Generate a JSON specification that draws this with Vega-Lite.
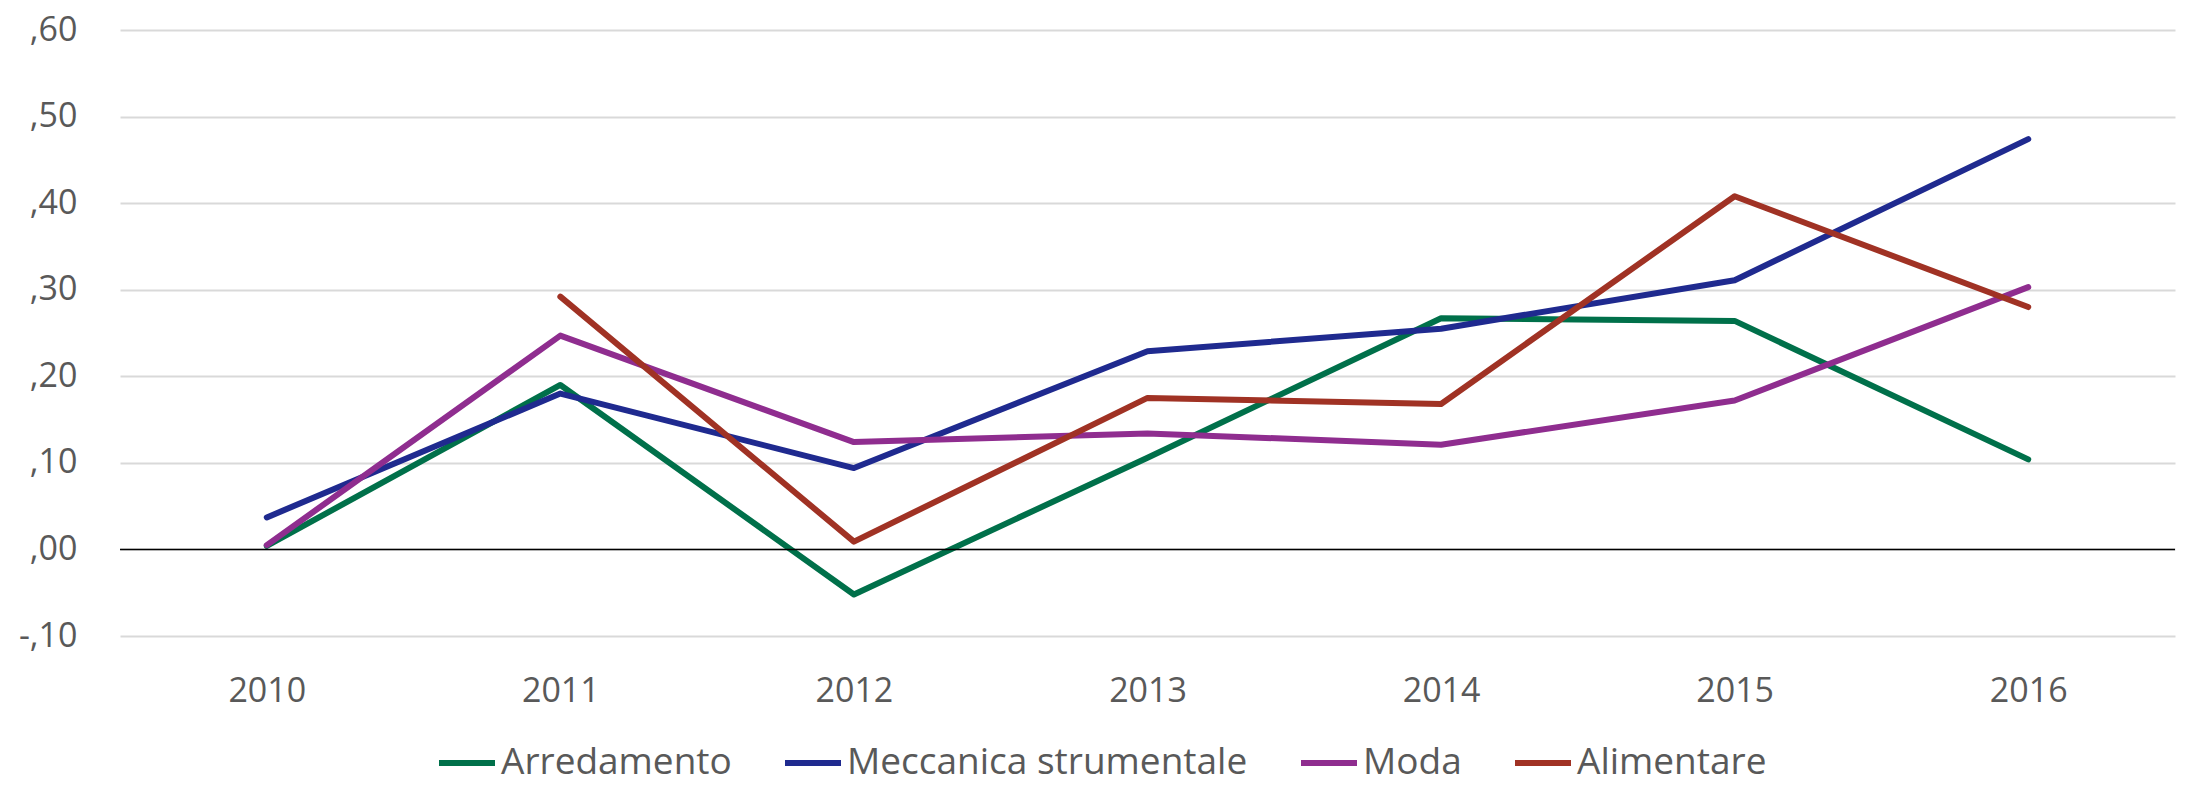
{
  "$schema": "https://vega.github.io/schema/vega-lite/v6.json",
  "autosize": {"type": "none"},
  "width": 2055,
  "height": 606,
  "padding": {"left": 120, "top": 30, "right": 11, "bottom": 149},
  "background": "white",
  "config": {
    "view": {"stroke": null},
    "font": "Open Sans",
    "axis": {"labelFont": "Open Sans", "labelColor": "#595959", "labelFontSize": 34},
    "legend": {"labelFont": "Open Sans", "labelColor": "#595959", "labelFontSize": 37}
  },
  "layer": [
    {
      "data": {"values": [
        {"year": "2010", "series": "Arredamento", "value": 0.004},
        {"year": "2011", "series": "Arredamento", "value": 0.190},
        {"year": "2012", "series": "Arredamento", "value": -0.052},
        {"year": "2013", "series": "Arredamento", "value": 0.106},
        {"year": "2014", "series": "Arredamento", "value": 0.267},
        {"year": "2015", "series": "Arredamento", "value": 0.264},
        {"year": "2016", "series": "Arredamento", "value": 0.104},
        {"year": "2010", "series": "Meccanica strumentale", "value": 0.037},
        {"year": "2011", "series": "Meccanica strumentale", "value": 0.180},
        {"year": "2012", "series": "Meccanica strumentale", "value": 0.094},
        {"year": "2013", "series": "Meccanica strumentale", "value": 0.229},
        {"year": "2014", "series": "Meccanica strumentale", "value": 0.255},
        {"year": "2015", "series": "Meccanica strumentale", "value": 0.311},
        {"year": "2016", "series": "Meccanica strumentale", "value": 0.474},
        {"year": "2010", "series": "Moda", "value": 0.005},
        {"year": "2011", "series": "Moda", "value": 0.247},
        {"year": "2012", "series": "Moda", "value": 0.124},
        {"year": "2013", "series": "Moda", "value": 0.134},
        {"year": "2014", "series": "Moda", "value": 0.121},
        {"year": "2015", "series": "Moda", "value": 0.172},
        {"year": "2016", "series": "Moda", "value": 0.303},
        {"year": "2011", "series": "Alimentare", "value": 0.292},
        {"year": "2012", "series": "Alimentare", "value": 0.009},
        {"year": "2013", "series": "Alimentare", "value": 0.175},
        {"year": "2014", "series": "Alimentare", "value": 0.168},
        {"year": "2015", "series": "Alimentare", "value": 0.408},
        {"year": "2016", "series": "Alimentare", "value": 0.280}
      ]},
      "mark": {"type": "line", "strokeWidth": 6, "strokeCap": "round", "strokeJoin": "round"},
      "encoding": {
        "x": {
          "field": "year", "type": "ordinal",
          "scale": {"type": "point", "padding": 0.5},
          "axis": {"title": null, "labelAngle": 0, "domain": false, "ticks": false, "grid": false, "labelPadding": 38, "labelBaseline": "top"}
        },
        "y": {
          "field": "value", "type": "quantitative",
          "scale": {"domain": [-0.1, 0.6], "nice": false},
          "axis": {
            "title": null, "values": [-0.1, 0, 0.1, 0.2, 0.3, 0.4, 0.5, 0.6],
            "labelExpr": "replace(replace(format(datum.value, '.2f'), '0.', ','), '\u2212', '-')",
            "domain": false, "ticks": false, "grid": true, "gridColor": "#d9d9d9", "gridWidth": 2,
            "labelPadding": 43
          }
        },
        "color": {
          "field": "series", "type": "nominal",
          "scale": {
            "domain": ["Arredamento", "Meccanica strumentale", "Moda", "Alimentare"],
            "range": ["#00704a", "#1f2a8f", "#8f2d8f", "#a03224"]
          },
          "legend": {
            "title": null, "orient": "none", "direction": "horizontal",
            "legendX": 316, "legendY": 702,
            "symbolType": "stroke", "symbolStrokeWidth": 6, "symbolSize": 3136,
            "labelOffset": 3, "columnPadding": 41, "labelLimit": 0
          }
        }
      }
    },
    {
      "data": {"values": [{"zero": 0}]},
      "mark": {"type": "rule", "color": "#000000", "strokeWidth": 1.5},
      "encoding": {"y": {"field": "zero", "type": "quantitative"}}
    }
  ]
}
